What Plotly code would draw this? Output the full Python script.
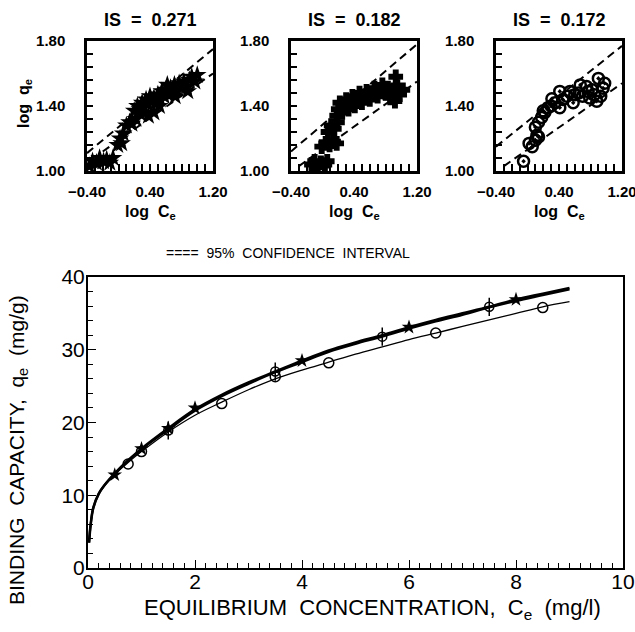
import plotly.graph_objects as go

W, H = 635, 632

# ---------------- main chart data ----------------
curve_c = [0.02, 0.05, 0.1, 0.2, 0.3, 0.5, 0.75, 1.0, 1.5, 2.0, 2.5, 3.0, 3.5, 4.0,
           4.5, 5.0, 5.5, 6.0, 6.5, 7.0, 7.5, 8.0, 8.5, 9.0]
curve_star = [3.5, 6.0, 8.3, 10.2, 11.3, 13.0, 14.8, 16.4, 19.2, 21.8, 23.8, 25.5, 27.0, 28.5,
              29.9, 31.0, 32.0, 33.1, 34.1, 35.0, 35.9, 36.9, 37.7, 38.5]
curve_plus = [3.5, 6.0, 8.3, 10.2, 11.3, 12.9, 14.7, 16.3, 19.0, 21.6, 23.6, 25.3, 26.9, 28.3,
              29.7, 30.8, 31.8, 32.9, 33.9, 34.8, 35.8, 36.7, 37.5, 38.3]
curve_circ = [3.5, 6.0, 8.3, 10.2, 11.3, 12.9, 14.5, 16.0, 18.7, 21.0, 22.8, 24.5, 26.0, 27.2,
              28.3, 29.4, 30.4, 31.4, 32.3, 33.2, 34.1, 35.0, 35.9, 36.6]

pts_star_c = [0.5, 1.0, 1.5, 2.0, 4.0, 6.0, 8.0]
pts_star_q = [12.8, 16.4, 19.2, 22.0, 28.5, 33.1, 36.9]
pts_plus_c = [1.5, 3.5, 5.5, 7.5]
pts_plus_q = [18.9, 27.0, 31.8, 35.9]
pts_circ_c = [0.75, 1.0, 2.5, 3.5, 4.5, 6.5, 8.5]
pts_circ_q = [14.3, 16.0, 22.6, 26.3, 28.2, 32.3, 35.8]

# ---------------- inset data (log C_e, log q_e) ----------------
is_labels = ["IS  =  0.271", "IS  =  0.182", "IS  =  0.172"]

s1_x = [-0.37, -0.33, -0.28, -0.24, -0.19, -0.15, -0.11, -0.07,
        -0.01, 0.02, 0.04, 0.06, 0.10, 0.14, 0.17, 0.22,
        0.20, 0.24, 0.27, 0.30, 0.32, 0.35, 0.37, 0.40, 0.42, 0.45, 0.47, 0.50, 0.53,
        0.55, 0.58, 0.60, 0.63, 0.66, 0.68, 0.71, 0.74, 0.77, 0.80, 0.83, 0.86, 0.90,
        0.93, 0.97, 1.00, 0.38, 0.45, 0.52, 0.28, 0.62, 0.72, 0.88]
s1_y = [1.03, 1.06, 1.05, 1.08, 1.06, 1.07, 1.05, 1.08,
        1.16, 1.20, 1.17, 1.23, 1.28, 1.30, 1.29, 1.32,
        1.37, 1.40, 1.38, 1.42, 1.39, 1.44, 1.41, 1.46, 1.43, 1.45, 1.42, 1.47, 1.44,
        1.49, 1.46, 1.50, 1.47, 1.51, 1.48, 1.53, 1.50, 1.54, 1.51, 1.55, 1.52, 1.56,
        1.58, 1.55, 1.59, 1.34, 1.36, 1.40, 1.35, 1.53, 1.46, 1.49]

s2_x = [-0.14, -0.10, -0.06, -0.02, 0.03, 0.06,
        -0.01, 0.04, 0.09, 0.14, 0.18,
        0.07, 0.11, 0.15, 0.19,
        0.18, 0.20, 0.22, 0.25, 0.27, 0.30, 0.33, 0.35, 0.38, 0.41, 0.44, 0.47, 0.50,
        0.53, 0.56, 0.60, 0.63, 0.66, 0.70, 0.73, 0.76, 0.80, 0.83, 0.86, 0.90, 0.92,
        0.95, 0.98, 1.02, 0.93]
s2_y = [1.04, 1.06, 1.03, 1.05, 1.04, 1.06,
        1.15, 1.17, 1.16, 1.18, 1.17,
        1.24, 1.28, 1.26, 1.30,
        1.34, 1.38, 1.42, 1.36, 1.40, 1.44, 1.38, 1.42, 1.46, 1.40, 1.44, 1.48, 1.42,
        1.46, 1.49, 1.44, 1.48, 1.51, 1.46, 1.50, 1.53, 1.48, 1.51, 1.45, 1.50, 1.43,
        1.52, 1.47, 1.50, 1.58]

s3_x = [-0.05, 0.02, 0.06, 0.10, 0.12, 0.14, 0.10, 0.14, 0.18, 0.22, 0.20,
        0.26, 0.31, 0.30, 0.35, 0.41, 0.41, 0.45, 0.50, 0.54, 0.58, 0.60, 0.65,
        0.67, 0.70, 0.75, 0.77, 0.79, 0.82, 0.85, 0.88, 0.90, 0.93, 0.96, 0.98]
s3_y = [1.06, 1.17, 1.15, 1.19, 1.22, 1.21, 1.27, 1.30, 1.33, 1.36, 1.37,
        1.39, 1.445, 1.40, 1.42, 1.49, 1.39, 1.44, 1.46, 1.49, 1.42, 1.47, 1.48,
        1.53, 1.46, 1.52, 1.49, 1.45, 1.50, 1.47, 1.43, 1.57, 1.46, 1.51, 1.54]

ci_x = [[-0.4, 1.2], [-0.4, 1.2], [-0.4, 1.2]]
ci_up = [[1.11, 1.75], [1.12, 1.78], [1.15, 1.77]]
ci_lo_x = [[-0.2, 1.2], [-0.3, 1.2], [-0.3, 1.2]]
ci_lo = [[1.12, 1.60], [1.03, 1.55], [1.03, 1.54]]

# ---------------- figure ----------------
fig = go.Figure()
BLACK = "black"
FONT = "Liberation Sans"


def px_x(p):
    return p / W


def px_y(p):
    return 1 - p / H


# main curves
fig.add_trace(go.Scatter(x=curve_c, y=curve_star, mode="lines", line=dict(color=BLACK, width=2.6, shape="spline"),
                         xaxis="x", yaxis="y", showlegend=False))
fig.add_trace(go.Scatter(x=curve_c, y=curve_plus, mode="lines", line=dict(color=BLACK, width=2.2, shape="spline"),
                         xaxis="x", yaxis="y", showlegend=False))
fig.add_trace(go.Scatter(x=curve_c, y=curve_circ, mode="lines", line=dict(color=BLACK, width=1.3, shape="spline"),
                         xaxis="x", yaxis="y", showlegend=False))
fig.add_trace(go.Scatter(x=pts_star_c, y=pts_star_q, mode="markers",
                         marker=dict(symbol="star", size=11, color=BLACK),
                         xaxis="x", yaxis="y", showlegend=False))
fig.add_trace(go.Scatter(x=pts_plus_c, y=pts_plus_q, mode="markers",
                         marker=dict(symbol="circle-open", size=9, color=BLACK, line=dict(width=1.5)),
                         xaxis="x", yaxis="y", showlegend=False))
fig.add_trace(go.Scatter(x=pts_plus_c, y=pts_plus_q, mode="markers",
                         marker=dict(symbol="line-ns-open", size=13, color=BLACK, line=dict(width=1.5)),
                         xaxis="x", yaxis="y", showlegend=False))
fig.add_trace(go.Scatter(x=pts_circ_c, y=pts_circ_q, mode="markers",
                         marker=dict(symbol="circle-open", size=10, color=BLACK, line=dict(width=1.5)),
                         xaxis="x", yaxis="y", showlegend=False))

# insets
sets = [(s1_x, s1_y, dict(symbol="star", size=14, color=BLACK)),
        (s2_x, s2_y, dict(symbol="cross", size=11, color=BLACK, line=dict(width=1.5, color=BLACK))),
        (s3_x, s3_y, dict(symbol="circle-open-dot", size=11, color=BLACK, line=dict(width=2.5)))]
for i, (sx, sy, mk) in enumerate(sets):
    xa, ya = f"x{i + 2}", f"y{i + 2}"
    fig.add_trace(go.Scatter(x=ci_x[i], y=ci_up[i], mode="lines",
                             line=dict(color=BLACK, width=2, dash="8px,5px"),
                             xaxis=xa, yaxis=ya, showlegend=False))
    fig.add_trace(go.Scatter(x=ci_lo_x[i], y=ci_lo[i], mode="lines",
                             line=dict(color=BLACK, width=2, dash="8px,5px"),
                             xaxis=xa, yaxis=ya, showlegend=False))
    fig.add_trace(go.Scatter(x=sx, y=sy, mode="markers", marker=mk,
                             xaxis=xa, yaxis=ya, showlegend=False))

layout = dict(
    width=W, height=H, margin=dict(l=0, r=0, t=0, b=0, pad=0, autoexpand=False),
    paper_bgcolor="white", plot_bgcolor="white",
    font=dict(family=FONT, color=BLACK),
    xaxis=dict(domain=[px_x(88), px_x(623)], range=[0, 10], anchor="y", automargin=False,
               showline=True, linecolor=BLACK, linewidth=2, mirror=True,
               showgrid=False, zeroline=False, ticklabeloverflow="allow",
               ticks="inside", ticklen=8, tickwidth=1.3, tickcolor=BLACK, dtick=2,
               minor=dict(ticks="inside", ticklen=5, tickwidth=1.2, tickcolor=BLACK, dtick=0.2),
               tickfont=dict(size=21, family=FONT), ticklabelstandoff=-6),
    yaxis=dict(domain=[px_y(568), px_y(277)], range=[0, 40], anchor="x", automargin=False,
               showline=True, linecolor=BLACK, linewidth=2, mirror=True,
               showgrid=False, zeroline=False, ticklabeloverflow="allow",
               ticks="inside", ticklen=8, tickwidth=1.3, tickcolor=BLACK, dtick=10,
               minor=dict(ticks="inside", ticklen=5, tickwidth=1.2, tickcolor=BLACK, dtick=2),
               tickfont=dict(size=21, family=FONT), ticklabelstandoff=-3),
)

lefts = [87, 291, 496]
annotations = []
for i, L in enumerate(lefts):
    n = i + 2
    layout[f"xaxis{n}"] = dict(domain=[px_x(L), px_x(L + 126)], range=[-0.4, 1.2], anchor=f"y{n}",
                               automargin=False, ticklabeloverflow="allow",
                               showline=True, linecolor=BLACK, linewidth=2.5, mirror=True,
                               showgrid=False, zeroline=False,
                               ticks="inside", ticklen=7, tickwidth=1.5, tickcolor=BLACK,
                               tickvals=[-0.4, 0.4, 1.2], tickformat=".2f",
                               minor=dict(ticks="inside", ticklen=7, tickwidth=1.5, tickcolor=BLACK,
                                          tickvals=[-0.3, -0.2, -0.1, 0.0, 0.1, 0.2, 0.3, 0.5, 0.6,
                                                    0.7, 0.8, 0.9, 1.0, 1.1]),
                               tickfont=dict(size=15, family=FONT, weight="bold"), ticklabelstandoff=5)
    layout[f"yaxis{n}"] = dict(domain=[px_y(171), px_y(41)], range=[1.0, 1.8], anchor=f"x{n}",
                               automargin=False, ticklabeloverflow="allow",
                               showline=True, linecolor=BLACK, linewidth=2.5, mirror=True,
                               showgrid=False, zeroline=False,
                               ticks="inside", ticklen=6, tickwidth=1.5, tickcolor=BLACK,
                               tickvals=[1.0, 1.4, 1.8], tickformat=".2f",
                               minor=dict(ticks="inside", ticklen=6, tickwidth=1.5, tickcolor=BLACK,
                                          tickvals=[1.08, 1.16, 1.24, 1.32, 1.48, 1.56, 1.64, 1.72]),
                               tickfont=dict(size=15, family=FONT, weight="bold"), ticklabelstandoff=16)
    annotations.append(dict(text=is_labels[i], x=px_x(L + 63), y=px_y(20), xref="paper", yref="paper",
                            xanchor="center", yanchor="middle",
                            showarrow=False, font=dict(size=18, family=FONT, weight="bold")))
    annotations.append(dict(text="log  C<sub>e</sub>", x=px_x(L + 63), y=px_y(212), xref="paper", yref="paper",
                            xanchor="center", yanchor="middle",
                            showarrow=False, font=dict(size=16, family=FONT, weight="bold")))

annotations.append(dict(text="log  q<sub>e</sub>", x=px_x(24), y=px_y(104), xref="paper", yref="paper",
                        xanchor="center", yanchor="middle",
                        textangle=-90, showarrow=False, font=dict(size=16, family=FONT, weight="bold")))
annotations.append(dict(text="====  95%  CONFIDENCE  INTERVAL", x=px_x(288), y=px_y(253), xref="paper", yref="paper",
                        xanchor="center", yanchor="middle",
                        showarrow=False, font=dict(size=14, family=FONT)))
annotations.append(dict(text="EQUILIBRIUM  CONCENTRATION,  C<sub>e</sub>  (mg/l)", x=px_x(372), y=px_y(609),
                        xanchor="center", yanchor="middle",
                        xref="paper", yref="paper", showarrow=False, font=dict(size=22, family=FONT)))
annotations.append(dict(text="BINDING  CAPACITY,  q<sub>e</sub>  (mg/g)", x=px_x(18), y=px_y(450),
                        xanchor="center", yanchor="middle",
                        xref="paper", yref="paper", textangle=-90, showarrow=False,
                        font=dict(size=21, family=FONT)))
layout["annotations"] = annotations

fig.update_layout(**layout)
fig.write_html("out.html", config={"displayModeBar": False},
               post_script="document.body.style.margin='0px';")
